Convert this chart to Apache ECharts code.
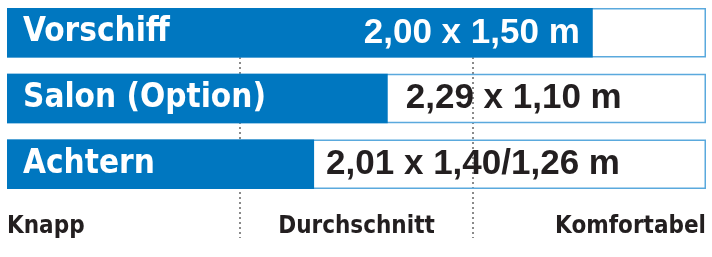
<!DOCTYPE html>
<html><head><meta charset="utf-8">
<script src="https://cdn.jsdelivr.net/npm/echarts@6/dist/echarts.min.js"></script>
<style>html,body{margin:0;padding:0;background:#fff}#c{width:712px;height:257px}</style>
</head><body><div id="c"></div>
<script>
const categories = ['Vorschiff', 'Salon (Option)', 'Achtern'];
const values = [2.514, 1.634, 1.318];
const sizeLabels = ['2,00 x 1,50 m', '2,29 x 1,10 m', '2,01 x 1,40/1,26 m'];
const scaleMax = 3;
const tickLabels = ['Knapp', 'Durchschnitt', 'Komfortabel'];

const BLUE = '#0077c0';
const DARK = '#231f20';
const NARROW = '"Liberation Sans Narrow", "DejaVu Sans Condensed", sans-serif';
const WIDE = '"Liberation Sans", Arial, sans-serif';
const valueLabelLayout = [
  { position: 'insideRight', distance: 13, color: '#ffffff' },
  { position: 'right', distance: 18, color: DARK },
  { position: 'right', distance: 12, color: DARK }
];

const chart = echarts.init(document.getElementById('c'), null, { renderer: 'canvas' });
chart.setOption({
  animation: false,
  grid: [
    { left: 7, right: 6, top: -0.8, bottom: 59.8 },
    { left: 7, right: 6, top: 57, bottom: 19 }
  ],
  xAxis: [
    { gridIndex: 0, type: 'value', min: 0, max: scaleMax, show: false },
    { gridIndex: 1, type: 'value', min: 0, max: scaleMax, interval: 1,
      axisLine: { show: false }, axisTick: { show: false }, axisLabel: { show: false },
      splitLine: { show: true, showMinLine: false, showMaxLine: false,
        lineStyle: { color: '#8a8a8a', width: 2, type: [2, 3] } } },
    { gridIndex: 1, type: 'category', data: tickLabels, boundaryGap: false, position: 'bottom',
      axisLine: { show: false }, axisTick: { show: false }, splitLine: { show: false },
      axisLabel: { inside: true, margin: -1, interval: 0, alignMinLabel: 'left', alignMaxLabel: 'right',
        color: DARK, fontFamily: NARROW, fontWeight: 'bold', fontSize: 24 } }
  ],
  yAxis: [
    { gridIndex: 0, type: 'category', data: categories, inverse: true, z: 10,
      axisLine: { show: false }, axisTick: { show: false }, splitLine: { show: false },
      axisLabel: { inside: true, margin: 16, color: '#ffffff', fontFamily: NARROW,
        fontWeight: 'bold', fontSize: 33 } },
    { gridIndex: 1, type: 'value', min: 0, max: 1, show: false }
  ],
  series: [
    { type: 'bar', xAxisIndex: 0, yAxisIndex: 0, silent: true, barWidth: 49.5, barGap: '-100%',
      data: categories.map(() => scaleMax),
      itemStyle: { color: 'rgba(255,255,255,0)', borderColor: '#5aa9dd', borderWidth: 1.5 } },
    { type: 'bar', xAxisIndex: 0, yAxisIndex: 0, silent: true, barWidth: 49.5, barGap: '-100%',
      itemStyle: { color: BLUE },
      data: values.map((v, i) => ({
        value: v,
        label: Object.assign({ show: true, formatter: sizeLabels[i], fontFamily: WIDE,
          fontWeight: 'bold', fontSize: 35 }, valueLabelLayout[i])
      })) }
  ]
});
</script></body></html>
